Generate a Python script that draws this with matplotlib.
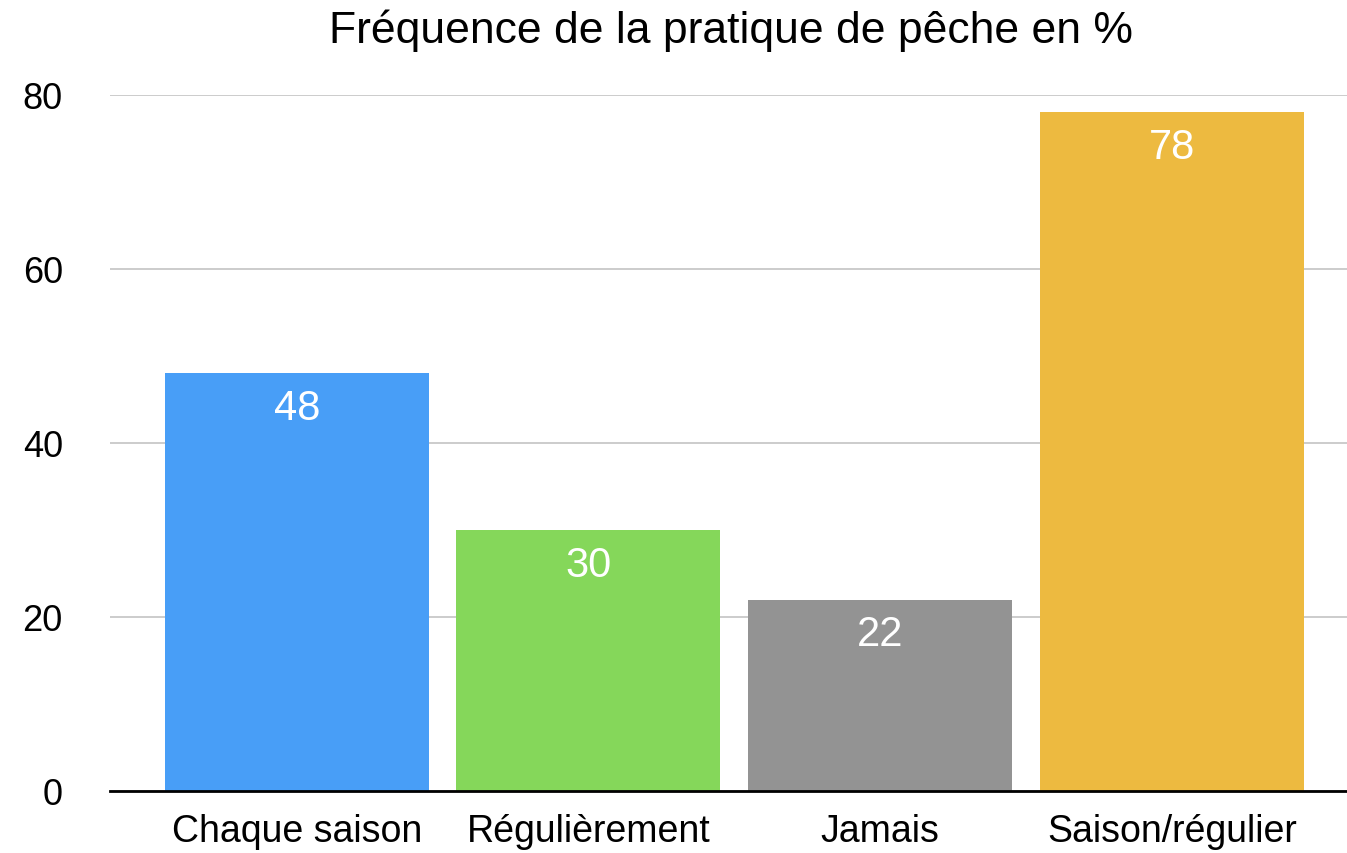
import matplotlib
matplotlib.use("Agg")
import matplotlib.pyplot as plt

categories = ["Chaque saison", "Régulièrement", "Jamais", "Saison/régulier"]
values = [48, 30, 22, 78]
colors = ["#489EF7", "#85D75A", "#939393", "#EDBA40"]
yticks = [0, 20, 40, 60, 80]

plt.rcParams['font.family'] = ['Liberation Sans', 'DejaVu Sans']

fig = plt.figure(figsize=(13.47, 8.54), dpi=100)
ax = fig.add_axes([110/1347, 1-792/854, 1-110/1347, (792-96)/854])

x = list(range(len(categories)))
bars = ax.bar(x, values, width=0.905, color=colors, zorder=3)
ax.set_xlim(-0.64, 3.6)
ax.set_ylim(0, 80)
ax.set_yticks(yticks)
ax.set_xticks(x)
ax.set_xticklabels(categories, fontsize=27)
ax.tick_params(axis='y', labelsize=26, length=0, pad=34)
ax.tick_params(axis='x', length=0, pad=16)
ax.grid(axis='y', color='#c4c4c4', linewidth=1.2, zorder=0)
for s in ['top', 'right', 'left']:
    ax.spines[s].set_visible(False)
ax.spines['bottom'].set_linewidth(2)
ax.spines['bottom'].set_color('black')
ax.spines['bottom'].set_zorder(4)

for xi, v in zip(x, values):
    ax.annotate(str(v), (xi, v), xytext=(0, -25), textcoords='offset points',
                ha='center', va='center', fontsize=30, color='white', zorder=5)

fig.text(0.543, 1-31/854, "Fréquence de la pratique de pêche en %", ha='center', va='center', fontsize=32)

fig.savefig("out.png", dpi=100)
